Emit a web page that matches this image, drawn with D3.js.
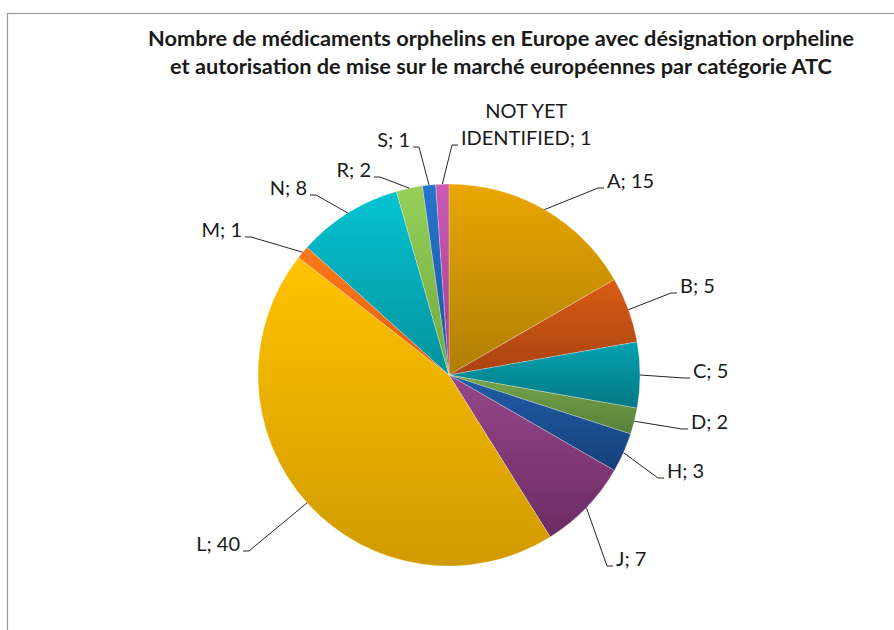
<!DOCTYPE html>
<html>
<head>
<meta charset="utf-8">
<script src="https://cdn.jsdelivr.net/npm/d3@7"></script>
<style>
  html, body { margin: 0; padding: 0; background: #fff; }
  svg { display: block; }
  text { font-family: Lato, "Open Sans", sans-serif; fill: #1a1a1a; }
</style>
</head>
<body>
<svg id="chart"></svg>
<script>
// data
const categories = ['A', 'B', 'C', 'D', 'H', 'J', 'L', 'M', 'N', 'R', 'S', 'NOT YET IDENTIFIED'];
const counts     = [15, 5, 5, 2, 3, 7, 40, 1, 8, 2, 1, 1];
const titleLines = [
  'Nombre de médicaments orphelins en Europe avec désignation orpheline',
  'et autorisation de mise sur le marché européennes par catégorie ATC'
];

// slice colours (top, bottom of gradient)
const topColors    = ['#EAA700', '#D95B14', '#06A2B2', '#77A548', '#1F5EA8', '#97478B',
                      '#FFC300', '#FF7A1A', '#05C3D2', '#96D05A', '#2774CC', '#CC5AB4'];
const bottomColors = ['#B07E06', '#A94312', '#047782', '#56803A', '#15407A', '#6C2B62',
                      '#D19A00', '#E05A0A', '#03929C', '#6FA83E', '#1A56A0', '#A23F8E'];

// where excel put the label text (x of text edge, baseline), and which side
const labelAnchors = [
  [607, 188, 'r'], [680, 293, 'r'], [693, 378, 'r'], [691, 429, 'r'],
  [667, 478, 'r'], [616, 566, 'r'], [240, 551, 'l'], [242, 237, 'l'],
  [307, 195, 'l'], [371, 177, 'l'], [410, 147, 'l'], [461, 145, 'r']
];
// multi-line label text
const labelLines = [
  ['A; 15'], ['B; 5'], ['C; 5'], ['D; 2'], ['H; 3'], ['J; 7'], ['L; 40'],
  ['M; 1'], ['N; 8'], ['R; 2'], ['S; 1'], ['NOT YET', 'IDENTIFIED; 1']
];

const W = 894, H = 630;
const svg = d3.select('#chart').attr('width', W).attr('height', H);

// chart frame
svg.append('rect')
  .attr('x', 7.5).attr('y', 13.5)
  .attr('width', W + 20).attr('height', H + 20)
  .attr('fill', 'none')
  .attr('stroke', '#9a9a9a')
  .attr('stroke-width', 1.2);

// title
const titleW = [706, 662];
svg.append('g').selectAll('text')
  .data(titleLines)
  .enter().append('text')
    .attr('x', 501)
    .attr('y', (d, i) => 46 + i * 28)
    .attr('text-anchor', 'middle')
    .attr('font-size', 20)
    .attr('font-weight', 'bold')
    .attr('fill', '#000')
    .attr('textLength', (d, i) => titleW[i])
    .attr('lengthAdjust', 'spacingAndGlyphs')
    .text(d => d);

// gradients
const defs = svg.append('defs');
categories.forEach((c, i) => {
  const lg = defs.append('linearGradient')
    .attr('id', 'grad' + i)
    .attr('x1', 0).attr('y1', 0).attr('x2', 0).attr('y2', 1);
  lg.append('stop').attr('offset', '0%').attr('stop-color', topColors[i]);
  lg.append('stop').attr('offset', '100%').attr('stop-color', bottomColors[i]);
});

const cx = 449, cy = 375, radius = 191;

const table = categories.map((c, i) => ({cat: c, value: counts[i], idx: i}));

const pie = d3.pie()
  .sort(null)
  .value(d => d.value);

const arcs = pie(table);

const arc = d3.arc().innerRadius(0).outerRadius(radius);
const edge = d3.arc().innerRadius(radius).outerRadius(radius);

const g = svg.append('g')
  .attr('transform', 'translate(' + cx + ',' + cy + ')');

g.selectAll('.slice')
  .data(arcs)
  .enter().append('path')
    .attr('class', 'slice')
    .attr('d', arc)
    .attr('fill', d => 'url(#grad' + d.data.idx + ')')
    .attr('stroke', '#ffffff')
    .attr('stroke-opacity', 0.45)
    .attr('stroke-width', 0.6);

// leader lines + labels
const labels = svg.append('g');

arcs.forEach((d) => {
  const i = d.data.idx;
  const [tx, ty, side] = labelAnchors[i];
  const p = edge.centroid(d);
  const sx = cx + p[0], sy = cy + p[1];
  const dir = side === 'r' ? -1 : 1;
  const elbowX = tx + dir * 9, endX = tx + dir * 3;

  labels.append('polyline')
    .attr('points', [[sx, sy], [elbowX, ty], [endX, ty]].map(q => q.join(',')).join(' '))
    .attr('fill', 'none')
    .attr('stroke', '#262626')
    .attr('stroke-width', 1);

  const lines = labelLines[i];
  const t = labels.append('text')
    .attr('font-size', 20)
    .attr('text-anchor', side === 'r' ? 'start' : 'end');

  if (lines.length === 1) {
    t.attr('x', tx).attr('y', ty).text(lines[0]);
  } else {
    // stacked label: lines centred on the widest one, last line sits on the leader
    t.attr('text-anchor', 'middle');
    const spans = lines.map((s, k) => t.append('tspan')
      .attr('y', ty - (lines.length - 1 - k) * 27)
      .text(s));
    let maxW = 0;
    spans.forEach(s => { maxW = Math.max(maxW, s.node().getComputedTextLength()); });
    const mid = tx + maxW / 2;
    spans.forEach(s => s.attr('x', mid));
  }
});
</script>
</body>
</html>
